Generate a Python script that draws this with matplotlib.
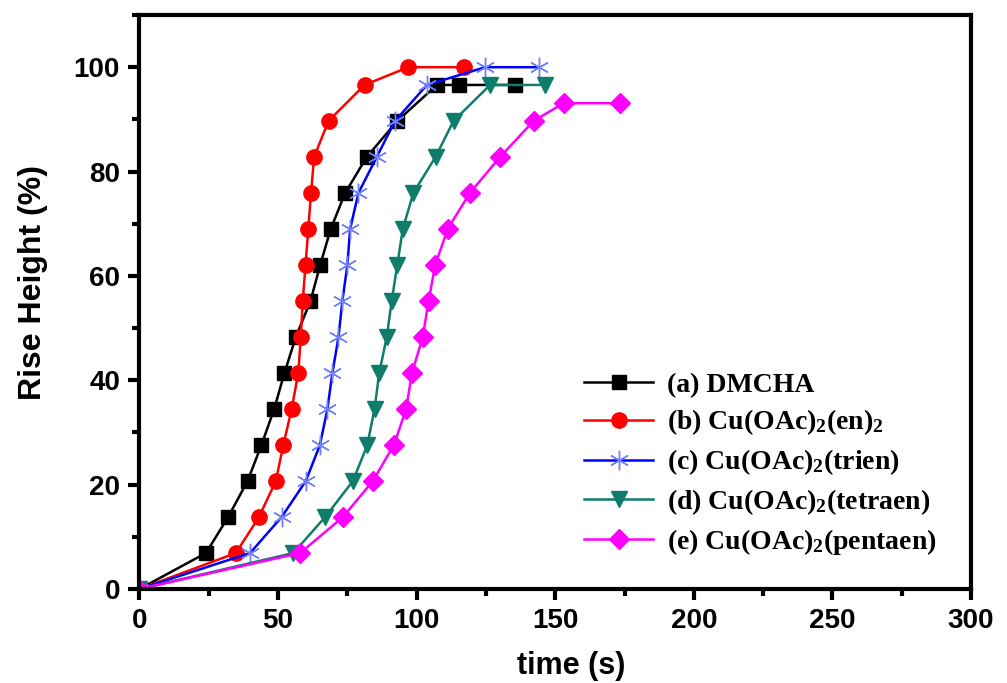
import matplotlib
matplotlib.use("Agg")
import matplotlib.pyplot as plt
from matplotlib.ticker import MultipleLocator

# rise height levels (%)
levels = [0, 6.9, 13.8, 20.7, 27.6, 34.5, 41.4, 48.3, 55.2, 62.1, 69.0,
          75.9, 82.8, 89.7]

t_dmcha = [0, 24, 32, 39, 44, 48.6, 52.3, 56.4, 61.7, 65.2, 69, 74.2, 82,
           93, 107.3, 115.1, 135.3]
h_dmcha = levels + [96.6, 96.6, 96.6]

t_en = [0, 34.8, 43.1, 49.2, 51.9, 54.9, 57.3, 58.2, 58.9, 59.9, 60.9, 61.9,
        63, 68.2, 81.2, 97, 116.9]
h_en = levels + [96.6, 100, 100]

t_trien = [0, 39.9, 51.3, 60, 65.1, 67.8, 69.6, 71.8, 73.2, 75, 76, 79, 85.6,
           92.2, 103.7, 124.7, 144]
h_trien = levels + [96.6, 100, 100]

t_tetraen = [0, 55.5, 67, 77, 82.2, 84.8, 86.5, 89.2, 91, 93, 95, 98.8,
             106.8, 113.3, 126.5, 146.4]
h_tetraen = levels + [96.6, 96.6]

t_pentaen = [0, 58, 73.4, 84.2, 91.8, 96.2, 98.3, 102.2, 104.3, 106.7, 111.2,
             119.2, 130.1, 142.2, 153, 173.5]
h_pentaen = levels + [93.1, 93.1]

labels = ["(a) DMCHA",
          "(b) Cu(OAc)$_2$(en)$_2$",
          "(c) Cu(OAc)$_2$(trien)",
          "(d) Cu(OAc)$_2$(tetraen)",
          "(e) Cu(OAc)$_2$(pentaen)"]

plt.rcParams["mathtext.default"] = "regular"

fig = plt.figure(figsize=(10.07, 6.83), dpi=100)
ax = fig.add_axes([0.1385, 0.1376, 0.8258, 0.8404])

ax.plot(t_dmcha, h_dmcha, color="black", lw=1.8, marker="s", ms=10,
        label=labels[0])
ax.plot(t_en, h_en, color="#ff0000", lw=1.8, marker="o", ms=11,
        label=labels[1])
ax.plot(t_trien, h_trien, color="#0000ff", lw=1.8, marker=(6, 2, 0),
        ms=14, mec="#6f7fff", mew=1.0, label=labels[2])
ax.plot(t_tetraen, h_tetraen, color="#0e7d6c", lw=1.8, marker="v",
        ms=12, label=labels[3])
ax.plot(t_pentaen, h_pentaen, color="#ff00ff", lw=1.8, marker="D", ms=10,
        label=labels[4])

ax.set_xlim(0, 300)
ax.set_ylim(0, 110)
ax.xaxis.set_major_locator(MultipleLocator(50))
ax.xaxis.set_minor_locator(MultipleLocator(25))
ax.yaxis.set_major_locator(MultipleLocator(20))
ax.yaxis.set_minor_locator(MultipleLocator(10))

for s in ax.spines.values():
    s.set_linewidth(3)
ax.tick_params(which="major", direction="out", length=8, width=3,
               labelsize=20, pad=6)
ax.tick_params(which="minor", direction="out", length=5, width=3)
for lab in ax.get_xticklabels() + ax.get_yticklabels():
    lab.set_fontfamily("Liberation Sans")
    lab.set_fontweight("bold")

ax.set_xlabel("time (s)", fontsize=22, fontweight="bold",
              family="Liberation Sans")
ax.set_ylabel("Rise Height (%)", fontsize=23, fontweight="bold",
              family="Liberation Sans")
ax.xaxis.set_label_coords(0.519, -0.108)
ax.yaxis.set_label_coords(-0.11, 0.534)

ax.legend(loc="upper left", bbox_to_anchor=(0.521, 0.397), frameon=False,
          prop={"family": "Liberation Serif", "weight": "bold", "size": 20},
          handlelength=2.5, labelspacing=0.36, handletextpad=0.5,
          borderaxespad=0)

fig.savefig("out.png", dpi=100)
